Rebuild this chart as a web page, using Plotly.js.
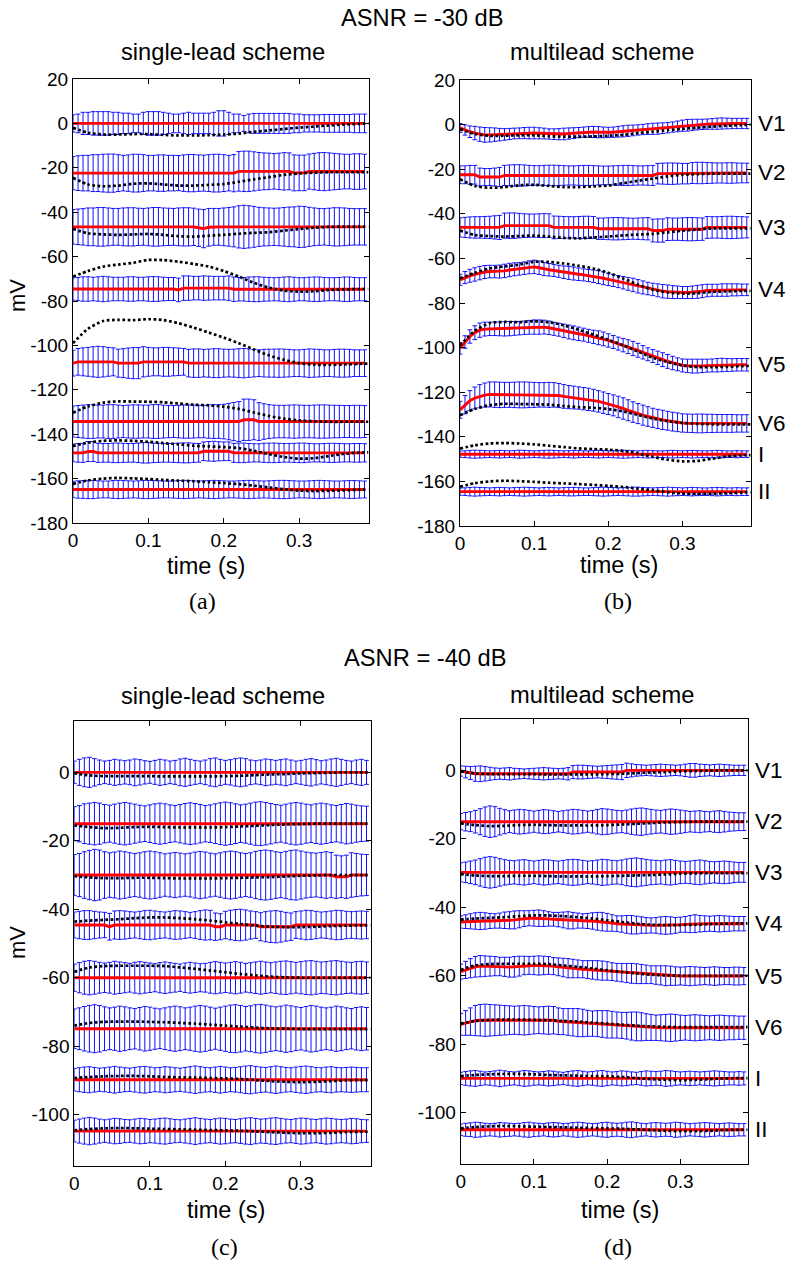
<!DOCTYPE html>
<html><head><meta charset="utf-8">
<script src="https://cdn.plot.ly/plotly-3.0.1.min.js"></script>
<style>html,body{margin:0;padding:0;background:#fff}#chart{width:786px;height:1264px}</style>
</head><body><div id="chart"></div>
<script>
const LEADS = ['V1','V2','V3','V4','V5','V6','I','II'];
// error-bar sample times (s)
const TB = [0,0.0067,0.0133,0.02,0.0267,0.0333,0.04,0.0467,0.0533,0.06,
0.0667,0.0733,0.08,0.0867,0.0933,0.1,0.1067,0.1133,0.12,0.1267,
0.1333,0.14,0.1467,0.1533,0.16,0.1667,0.1733,0.18,0.1867,0.1933,
0.2,0.2067,0.2133,0.22,0.2267,0.2333,0.24,0.2467,0.2533,0.26,
0.2667,0.2733,0.28,0.2867,0.2933,0.3,0.3067,0.3133,0.32,0.3267,
0.3333,0.34,0.3467,0.3533,0.36,0.3667,0.3733,0.38,0.3867];
// true-signal sample times (s)
const TT = [0,0.02,0.04,0.06,0.08,0.1,0.12,0.14,0.16,0.18,0.2,0.22,0.24,0.26,0.28,0.3,0.32,0.34,0.36,0.38,0.392];
const XTICKS = [0,0.1,0.2,0.3];
const XTICKTEXT = ['0','0.1','0.2','0.3'];
const YTICKS30 = [20,0,-20,-40,-60,-80,-100,-120,-140,-160,-180];
const YTICKS40 = [0,-20,-40,-60,-80,-100];

// true signals, ASNR = -30 dB
const T30_V1 = [-2,-4.2,-5,-5,-4.8,-4.8,-5.2,-5.4,-5.4,-5.3,-5,-4.6,-3.8,-3.2,-2.5,-1.9,-1.4,-0.9,-0.5,-0.2,0];
const T30_V2 = [-24.5,-27.5,-28.3,-28,-27.2,-27,-27.5,-28,-28,-27.7,-27.3,-26.3,-25.2,-24.2,-23.2,-22.5,-22.2,-22,-22,-22,-22];
const T30_V3 = [-47.5,-49.5,-50,-50.2,-50,-49.8,-50.2,-50.8,-51,-50.6,-50.2,-49.7,-49.3,-49,-48.3,-47.6,-47,-46.6,-46.5,-46.5,-46.5];
const T30_V4 = [-69,-66.5,-64.5,-63.6,-62.8,-61.5,-61.6,-62.3,-63.3,-64.5,-66.5,-69,-71.8,-74,-75.3,-75.8,-75.6,-75,-74.8,-74.6,-74.6];
const T30_V5 = [-99,-92.5,-89,-88.5,-88.6,-88.2,-88.6,-90,-92,-94.2,-96.5,-99,-101.8,-104.5,-106.5,-108,-108.7,-108.8,-108.6,-108.3,-108.2];
const T30_V6 = [-130.3,-127.5,-125.8,-125.2,-125.3,-125.4,-125.6,-126.2,-126.7,-127,-127.6,-128.6,-130.2,-131.8,-133,-133.8,-134.2,-134.4,-134.4,-134.4,-134.4];
const T30_I = [-145.3,-143.8,-143,-142.8,-143,-143.4,-144,-144.6,-145.2,-145.5,-145.8,-146.3,-147.5,-149,-150.3,-151,-150.8,-149.8,-148.8,-148.3,-148.2];
const T30_II = [-162.4,-160.8,-160,-159.7,-159.9,-160.2,-160.6,-160.9,-161.2,-161.6,-162,-162.5,-163.2,-164,-164.8,-165.4,-165.6,-165.5,-165.3,-165,-164.9];

// true signals, ASNR = -40 dB
const T40_V1 = [-0.3,-0.9,-1.1,-1.1,-1.1,-1.1,-1.2,-1.2,-1.2,-1.2,-1.1,-1,-0.8,-0.6,-0.5,-0.3,-0.2,-0.1,0,0,0];
const T40_V2 = [-15.5,-16,-16.3,-16.2,-16,-15.9,-16,-16.1,-16.1,-16.1,-16,-15.8,-15.6,-15.4,-15.2,-15.1,-15,-15,-15,-15,-15];
const T40_V3 = [-30.3,-30.7,-30.9,-30.9,-30.8,-30.8,-30.9,-31,-31,-31,-30.9,-30.8,-30.7,-30.6,-30.4,-30.2,-30.1,-30,-30,-30,-30];
const T40_V4 = [-43.6,-43.3,-43.1,-42.9,-42.6,-42.4,-42.4,-42.6,-42.9,-43.3,-43.8,-44.3,-44.8,-45.1,-45.2,-45.2,-45.1,-44.9,-44.8,-44.7,-44.7];
const T40_V5 = [-58.3,-57,-56.6,-56.5,-56.5,-56.5,-56.6,-57,-57.4,-57.9,-58.4,-58.9,-59.3,-59.7,-59.9,-60,-60,-60,-60,-60,-60];
const T40_V6 = [-74,-73.2,-72.9,-72.8,-72.8,-72.9,-73,-73.2,-73.4,-73.7,-74,-74.3,-74.6,-74.8,-74.9,-75,-75,-75,-75,-75,-75];
const T40_I = [-89.3,-89,-88.8,-88.7,-88.7,-88.8,-89,-89.1,-89.2,-89.3,-89.4,-89.6,-89.9,-90.2,-90.4,-90.5,-90.4,-90.2,-90,-89.9,-89.9];
const T40_II = [-104.6,-104.2,-104,-103.9,-104,-104.1,-104.2,-104.3,-104.4,-104.5,-104.6,-104.7,-104.9,-105.1,-105.3,-105.4,-105.4,-105.3,-105.1,-105,-105];

// (a) single-lead, -30 dB : mean estimate and std
const A_EST_V1 = [0,0,0,0,0,0,0,0,0,0, 0,0,0,0,0,0,0,0,0,0, 0,0,0,0,0,0,0,0,0,0, 0,0,0,0,0,0,0,0,0,0, 0,0,0,0,0,0,0,0,0,0, 0,0,0,0,0,0,0,0,0];
const A_SD_V1 = [3.9,4.2,5,5,5.3,5.3,5.3,5.3,5,5, 4.6,4.6,4.2,4.2,5,5.3,5.3,5.3,5,4.6, 4.2,4.2,4.6,5,4.6,4.6,4.6,4.6,5,5.7, 5.7,5,4.2,4.2,3.6,4.2,4.5,4.5,4.5,4.5, 4.5,4.5,4.5,4.5,4.2,4.2,3.9,3.9,3.9,3.9, 4,4,4,4,4,4,4.2,4.2,4.2];
const A_EST_V2 = [-22.4,-22.4,-22.4,-22.4,-22.4,-22.4,-22.4,-22.4,-22.4,-22.4, -22.4,-22.4,-22.4,-22.4,-22.4,-22.4,-22.4,-22.4,-22.4,-22.4, -22.4,-22.4,-22.4,-22.4,-22.4,-22.4,-22.4,-22.4,-22.4,-22.4, -22.4,-22.4,-22.4,-21.6,-21.6,-21.6,-21.6,-21.6,-21.6,-21.6, -21.6,-21.6,-21.6,-21.6,-22.3,-22.3,-22.3,-21.7,-21.7,-21.7, -21.7,-21.7,-21.7,-21.7,-21.7,-21.7,-21.7,-21.7,-21.7];
const A_SD_V2 = [7.5,7.8,8,8,8.3,8.3,8.5,8.6,8.6,8.3, 8,8.2,8.5,8.5,8.3,8,8,8.2,8.2,8, 8,7.9,8.2,8.4,8.4,8.2,8.1,8.3,8.5,8.5, 8.3,8,8.4,8.9,9.1,9.1,8.8,8.5,8.3,8.2, 8,8.2,8.4,8.3,8.1,8,8,7.9,8.2,8.5, 8.6,8.4,8.2,8,7.8,7.8,8,8,7.8];
const A_EST_V3 = [-46.6,-46.6,-46.6,-46.6,-46.6,-46.6,-46.6,-46.6,-46.6,-46.6, -46.6,-46.6,-46.6,-46.6,-46.6,-46.6,-46.6,-46.6,-46.6,-46.6, -46.6,-46.6,-46.6,-46.6,-46.6,-47,-47.4,-46.8,-46.6,-46.6, -46.6,-46.6,-46.6,-46.6,-46.6,-46.6,-46.6,-46.6,-46.6,-46.6, -46.6,-46.6,-46.6,-46.6,-46.6,-46.6,-46.6,-46.6,-46.6,-46.6, -46.6,-46.6,-46.6,-46.6,-46.6,-46.6,-46.6,-46.6,-46.6];
const A_SD_V3 = [7.8,8,8.2,8.5,8.5,8.7,8.7,8.5,8.3,8.3, 8.5,8.6,8.6,8.4,8.3,8.5,8.7,8.7,8.5,8.4, 8.3,8.5,8.6,8.6,8.4,8.4,8.6,8.5,8.3,8.3, 8.5,8.7,9,9.5,9.7,9.5,9.2,8.8,8.6,8.5, 8.4,8.5,8.7,8.9,9,9.3,9.2,8.8,8.5,8.3, 8.2,8.4,8.6,8.6,8.5,8.3,8.2,8.2,8.2];
const A_EST_V4 = [-74.6,-74.6,-74.6,-74.6,-74.6,-74.6,-74.6,-74.6,-74.6,-74.6, -74.6,-74.6,-74.6,-74.6,-74.6,-74.6,-74.6,-74.6,-74.6,-74.6, -74.6,-75,-74.2,-74.2,-74.2,-74.2,-74.2,-74.2,-74.2,-74.2, -74.2,-74.2,-74.7,-74.7,-74.7,-74.7,-74.7,-74.7,-74.7,-74.7, -74.7,-74.7,-74.7,-74.7,-74.7,-74.7,-74.7,-74.7,-74.7,-74.7, -74.7,-74.7,-74.7,-74.7,-74.7,-74.7,-74.7,-74.7,-74.7];
const A_SD_V4 = [5,5.2,5.5,5.5,5.3,5.5,5.7,5.5,5.3,5.3, 5.3,5.5,5.5,5.3,5.3,5.5,5.6,5.5,5.3,5.2, 5.2,5.3,5.5,5.5,5.3,5.3,5.5,5.4,5.3,5.3, 5.3,5.5,5.5,5.3,5.3,5.5,5.6,5.6,5.4,5.3, 5.2,5.3,5.5,5.6,5.4,5.2,5.2,5.4,5.5,5.5, 5.3,5.2,5.2,5.3,5.5,5.5,5.3,5.2,5.2];
const A_EST_V5 = [-108,-107.4,-107.4,-107.4,-107.4,-107.4,-107.4,-107.4,-107.4,-108, -108,-108,-108,-108,-107.4,-107.4,-107.4,-107.4,-107.4,-107.4, -107.4,-107.4,-107.4,-108,-108,-108,-108,-108,-108,-108, -108,-108,-108,-108,-108,-108,-108,-108,-108,-108, -108,-108,-108,-108,-108,-108,-108,-108,-108,-108, -108,-108,-108,-108,-108,-108,-108,-108,-108];
const A_SD_V5 = [5.8,6,6.3,6.5,6.8,7,6.8,6.5,6.3,6.3, 6.5,6.8,7,7,6.8,6.5,6.3,6.3,6.5,6.5, 6.3,6.2,6,6.2,6.4,6.4,6.2,6.3,6.5,6.5, 6.3,6.2,6.3,6.5,6.6,6.4,6.2,6,6.2,6.3, 6.3,6.4,6.3,6.2,6,6,6.2,6.4,6.3,6.2, 6,6,6.2,6.3,6.3,6.2,6,6,6];
const A_EST_V6 = [-134.3,-134.3,-134.3,-134.3,-134.3,-134.3,-134.3,-134.3,-134.3,-134.3, -134.3,-134.3,-134.3,-134.3,-134.3,-134.3,-134.3,-134.3,-134.3,-134.3, -134.3,-134.3,-134.3,-134.3,-134.3,-134.3,-134.3,-134.3,-134.3,-134.3, -134.3,-134.3,-134.3,-134.3,-133.5,-133.5,-133.5,-134.3,-134.3,-134.3, -134.3,-134.3,-134.3,-134.3,-134.3,-134.3,-134.3,-134.3,-134.3,-134.3, -134.3,-134.3,-134.3,-134.3,-134.3,-134.3,-134.3,-134.3,-134.3];
const A_SD_V6 = [7,7.2,7.4,7.6,7.6,7.4,7.4,7.6,7.6,7.4, 7.2,7.4,7.5,7.5,7.4,7.4,7.6,7.6,7.4,7.3, 7.2,7.3,7.5,7.5,7.4,7.3,7.3,7.5,7.6,7.6, 7.8,8.2,8.6,9,9.3,9.3,9,8.5,8,7.6, 7.4,7.3,7.3,7.4,7.5,7.4,7.3,7.3,7.4,7.5, 7.5,7.4,7.3,7.3,7.2,7.2,7.3,7.3,7.2];
const A_EST_I = [-148.4,-148.4,-148.4,-147.8,-147.8,-148.4,-148.4,-148.4,-148.4,-148.4, -148.4,-148.4,-148.4,-148.4,-148.4,-148.4,-148.4,-148.4,-148.4,-148.4, -148.4,-148.4,-148.4,-148.4,-148.4,-148.4,-147.7,-147.7,-147.7,-147.7, -147.7,-147.7,-148.4,-148.4,-148.4,-148.4,-148.4,-148.4,-148.4,-148.4, -148.4,-148.4,-148.4,-148.4,-148.4,-148.4,-148.4,-148.4,-148.4,-148.4, -148.4,-148.4,-148.4,-148.4,-148.4,-148.4,-148.4,-148.4,-148.4];
const A_SD_I = [4,4.2,4.3,4.5,4.5,4.3,4.2,4.2,4.4,4.4, 4.3,4.2,4.2,4.4,4.6,4.6,4.4,4.3,4.2,4.2, 4.3,4.4,4.5,4.5,4.3,4.2,4.2,4.4,4.5,4.3, 4.2,4.2,4.3,4.4,4.4,4.2,4.1,4.1,4.3,4.4, 4.4,4.3,4.2,4.2,4.3,4.4,4.4,4.2,4.1,4.1, 4.2,4.3,4.3,4.2,4.1,4.1,4.2,4.2,4.1];
const A_EST_II = [-164.9,-164.9,-164.9,-164.9,-164.9,-164.9,-164.9,-164.9,-164.9,-164.9, -164.9,-164.9,-164.9,-164.9,-164.9,-164.9,-164.9,-164.9,-164.9,-164.9, -164.9,-164.9,-164.9,-164.9,-164.9,-164.9,-164.9,-164.9,-164.9,-164.9, -164.9,-164.9,-164.9,-164.9,-164.9,-164.9,-164.9,-164.9,-164.9,-164.9, -164.9,-164.9,-164.9,-164.9,-164.9,-164.9,-164.9,-164.9,-164.9,-164.9, -164.9,-164.9,-164.9,-164.9,-164.9,-164.9,-164.9,-164.9,-164.9];
const A_SD_II = [3.7,3.9,4,4.1,4.1,3.9,3.8,3.8,4,4.1, 4,3.9,3.8,3.9,4.1,4.1,4,3.9,3.8,3.8, 3.9,4,4.1,4,3.9,3.8,3.9,4,4.1,4, 3.9,3.8,3.8,3.9,4,4.1,4,3.9,3.8,3.9, 4,4.1,4.1,4,3.9,3.8,3.8,3.9,4,4.1, 4,3.9,3.8,3.8,3.9,4,4,3.9,3.8];

// (b) multilead, -30 dB
const B_EST_V1 = [-1.5,-2.4,-3.2,-3.8,-4.3,-4.6,-4.6,-4.5,-4.5,-4.4, -4.2,-4,-3.9,-3.8,-3.8,-3.8,-3.9,-4,-4.2,-4.3, -4.3,-4.2,-4,-3.8,-3.6,-3.4,-3.3,-3.3,-3.4,-3.5, -3.5,-3.4,-3.2,-3,-2.8,-2.6,-2.4,-2.2,-2,-1.9, -1.8,-1.6,-1.4,-1.1,-0.8,-0.5,-0.3,-0.1,0,0.1, 0.2,0.3,0.4,0.5,0.5,0.5,0.5,0.5,0.5];
const B_SD_V1 = [2,2.3,2.6,3,3.2,3.3,3.2,3,2.8,2.6, 2.5,2.4,2.4,2.5,2.6,2.6,2.5,2.4,2.3,2.4, 2.5,2.6,2.5,2.4,2.3,2.3,2.4,2.5,2.5,2.4, 2.3,2.3,2.4,2.5,2.5,2.4,2.3,2.3,2.4,2.5, 2.5,2.4,2.3,2.3,2.4,2.5,2.6,2.5,2.4,2.3, 2.3,2.4,2.5,2.5,2.4,2.3,2.3,2.3,2.3];
const B_EST_V2 = [-22.5,-22.5,-22.5,-22.5,-23.5,-23.5,-23.5,-23.5,-23.5,-22.8, -22.8,-22.8,-22.8,-22.8,-22.8,-22.8,-22.8,-22.8,-22.8,-22.8, -22.8,-22.8,-22.8,-22.8,-22.8,-22.8,-22.8,-22.8,-22.8,-22.8, -22.8,-22.8,-22.8,-22.8,-22.8,-22.8,-22.8,-22.8,-22.8,-22.8, -22,-22,-22,-22,-22,-22,-22,-21.7,-21.7,-21.7, -21.7,-21.7,-21.7,-21.7,-21.7,-21.7,-21.7,-21.7,-21.7];
const B_SD_V2 = [4,4,4.2,4.2,4,3.8,3.8,4,4.3,4.5, 4.7,4.8,4.8,4.7,4.5,4.4,4.4,4.5,4.6,4.6, 4.5,4.4,4.3,4.3,4.4,4.5,4.5,4.4,4.3,4.2, 4.2,4.3,4.4,4.5,4.5,4.4,4.3,4.3,4.4,4.5, 4.6,4.7,4.8,4.8,4.7,4.6,4.6,4.7,4.8,4.8, 4.7,4.6,4.5,4.5,4.6,4.6,4.5,4.4,4.4];
const B_EST_V3 = [-46.1,-46.1,-46.1,-46.1,-46.1,-46.1,-46.1,-46.1,-46.1,-45.3, -45.3,-45.3,-45.3,-45.3,-45.3,-45.3,-45.3,-45.3,-45.3,-46.1, -46.1,-46.1,-46.1,-46.1,-46.1,-46.1,-46.1,-46.1,-46.7,-46.7, -46.7,-46.7,-46.7,-46.7,-46.7,-46.7,-46.7,-46.7,-46.7,-47.5, -47.5,-47.5,-46.9,-46.9,-46.9,-46.9,-46.9,-46.9,-46.9,-46.9, -46.1,-46.1,-46.1,-46.1,-46.1,-46.1,-46.1,-46.1,-46.1];
const B_SD_V3 = [4.3,4.5,4.7,4.8,4.8,4.9,5,5.2,5.4,5.6, 5.7,5.7,5.5,5.3,5.2,5.2,5.3,5.4,5.3,5.1, 5,4.9,4.8,4.8,4.9,5,5,4.9,4.8,4.8, 4.9,5,5,4.9,4.8,4.7,4.8,4.9,5,5.1, 5.2,5.2,5.1,5,5,5.1,5.2,5.2,5.1,5, 4.9,4.8,4.8,4.9,5,5,4.9,4.8,4.7];
const B_EST_V4 = [-69.6,-68.6,-67.8,-67.2,-66.6,-66.1,-65.9,-65.9,-65.9,-65.6, -65.2,-64.9,-64.7,-64.4,-64,-63.8,-64.2,-64.8,-65.1,-65.4, -65.8,-66.2,-66.5,-66.8,-67.1,-67.4,-67.7,-68,-68.4,-68.9, -69.4,-69.9,-70.4,-70.9,-71.4,-71.9,-72.5,-73,-73.5,-73.9, -74.3,-74.7,-74.9,-75.1,-75.2,-75.3,-75.3,-75.2,-75,-74.7, -74.4,-74.3,-74.3,-74.2,-74.2,-74.1,-74.1,-74.1,-74.1];
const B_SD_V4 = [2.5,2.7,2.9,3,3,2.9,2.8,2.8,2.9,3, 3,2.9,2.8,2.8,2.9,3,3,2.9,2.8,2.7, 2.7,2.8,2.9,2.9,2.8,2.7,2.7,2.8,2.9,2.9, 2.8,2.7,2.7,2.8,2.9,3,3,2.9,2.8,2.8, 2.9,3,3,2.9,2.8,2.7,2.7,2.8,2.9,2.9, 2.8,2.7,2.7,2.8,2.8,2.7,2.7,2.6,2.6];
const B_EST_V5 = [-100.3,-97.5,-95,-93.3,-92.2,-91.7,-91.6,-91.6,-91.6,-91.6, -91.5,-91.4,-91.3,-91.1,-90.9,-90.8,-90.8,-90.8,-91.1,-91.6, -92,-92.5,-93,-93.4,-93.8,-94.2,-94.7,-95.2,-95.6,-96.1, -96.8,-97.5,-98.2,-98.9,-99.6,-100.4,-101.2,-102.1,-103,-103.8, -104.6,-105.4,-106.2,-106.9,-107.5,-108,-108.2,-108.3,-108.3,-108.2, -108.1,-108,-107.9,-107.8,-107.8,-107.8,-107.7,-107.7,-107.7];
const B_SD_V5 = [2.6,2.8,3,3.1,3.2,3.1,3,3,3.1,3.2, 3.2,3.1,3,3,3.1,3.2,3.2,3.1,3,2.9, 2.9,3,3.1,3.1,3,2.9,2.9,3,3.1,3.1, 3,2.9,2.9,3,3.1,3.2,3.1,3,2.9,2.9, 3,3.1,3.1,3,2.9,2.9,3,3.1,3.1,3, 2.9,2.9,3,3,2.9,2.8,2.8,2.8,2.8];
const B_EST_V6 = [-127.9,-125.6,-123.8,-122.6,-121.8,-121.3,-121,-121.1,-121.2,-121.2, -121.2,-121.2,-121.2,-121.2,-121.2,-121.2,-121.2,-121.2,-121.2,-121.2, -121.5,-121.9,-122.2,-122.4,-122.6,-122.9,-123.2,-123.6,-124.1,-124.7, -125.3,-125.9,-126.6,-127.3,-128.1,-128.9,-129.6,-130.3,-130.9,-131.5, -132,-132.4,-132.8,-133.2,-133.5,-133.8,-133.9,-134,-134,-134, -134,-134,-134,-134,-134,-134,-134,-134,-134];
const B_SD_V6 = [3.8,4.1,4.5,4.9,5.2,5.4,5.6,5.7,5.7,5.6, 5.6,5.7,5.8,5.8,5.7,5.6,5.5,5.5,5.6,5.5, 5.4,5.3,5.2,5.1,5,5,5,4.9,4.8,4.8, 4.7,4.7,4.8,4.8,4.7,4.6,4.5,4.5,4.4,4.3, 4.3,4.3,4.2,4.2,4.2,4.1,4.1,4.1,4.2,4.2, 4.1,4.1,4,4,4,4,3.9,3.9,3.9];
const B_EST_I = [-147.8,-147.8,-147.8,-147.8,-147.8,-147.8,-147.8,-147.8,-147.8,-147.8, -147.8,-147.8,-147.8,-147.8,-147.8,-147.8,-147.8,-147.8,-147.8,-147.8, -147.8,-147.8,-147.8,-147.8,-147.8,-147.8,-147.8,-147.8,-147.8,-147.8, -147.8,-147.8,-147.8,-147.8,-147.8,-147.8,-147.8,-147.8,-147.8,-147.8, -147.8,-147.8,-147.8,-147.8,-147.8,-147.8,-147.8,-147.8,-147.8,-147.8, -147.8,-147.8,-147.8,-147.8,-147.8,-147.8,-147.8,-147.8,-147.8];
const B_SD_I = [1.4,1.5,1.7,1.8,1.7,1.6,1.5,1.6,1.7,1.6, 1.5,1.6,1.8,1.7,1.6,1.5,1.6,1.7,1.8,1.7, 1.6,1.5,1.6,1.7,1.6,1.5,1.5,1.6,1.7,1.6, 1.5,1.6,1.7,1.8,1.7,1.6,1.5,1.6,1.7,1.6, 1.5,1.5,1.6,1.7,1.6,1.5,1.6,1.7,1.6,1.5, 1.5,1.6,1.7,1.6,1.5,1.5,1.6,1.5,1.5];
const B_EST_II = [-164.6,-164.6,-164.6,-164.6,-164.6,-164.6,-164.6,-164.6,-164.6,-164.6, -164.6,-164.6,-164.6,-164.6,-164.6,-164.6,-164.6,-164.6,-164.6,-164.6, -164.6,-164.6,-164.6,-164.6,-164.6,-164.6,-164.6,-164.6,-164.6,-164.6, -164.6,-164.6,-164.6,-164.6,-164.6,-164.6,-164.6,-164.6,-164.6,-164.6, -164.6,-164.6,-164.6,-164.6,-164.6,-164.6,-164.6,-164.6,-164.6,-164.6, -164.6,-164.6,-164.6,-164.6,-164.6,-164.6,-164.6,-164.6,-164.6];
const B_SD_II = [1.6,1.7,1.9,2,1.9,1.8,1.7,1.8,1.9,1.8, 1.7,1.8,1.9,2,1.9,1.8,1.7,1.8,1.9,1.8, 1.7,1.8,1.9,1.9,1.8,1.7,1.7,1.8,1.9,2, 1.9,1.8,1.7,1.8,1.9,2,2,1.9,1.8,1.7, 1.8,1.9,2,1.9,1.8,1.7,1.8,1.9,1.8,1.7, 1.7,1.8,1.9,1.8,1.7,1.7,1.8,1.7,1.7];

// (c) single-lead, -40 dB
const C_EST_V1 = [0,0,0,0,0,0,0,0,0,0, 0,0,0,0,0,0,0,0,0,0, 0,0,0,0,0,0,0,0,0,0, 0,0,0,0,0,0,0,0,0,0, 0,0,0,0,0,0,0,0,0,0, 0,0,0,0,0,0,0,0,0];
const C_SD_V1 = [3.3,3.8,4.2,4.4,4,3.6,3.3,3.5,3.8,3.6, 3.4,3.6,3.9,3.7,3.4,3.2,3.5,3.8,3.6,3.3, 3.5,3.9,4.1,3.8,3.5,3.3,3.6,4,4.2,3.8, 3.5,3.7,4,4.2,4,3.6,3.4,3.6,3.9,3.7, 3.5,3.7,3.9,3.6,3.3,3.5,3.8,4,3.7,3.4, 3.6,3.9,4.1,3.8,3.5,3.3,3.6,3.8,3.5];
const C_EST_V2 = [-15,-15,-15,-15,-15,-15,-15,-15,-15,-15, -15,-15,-15,-15,-15,-15,-15,-15,-15,-15, -15,-15,-15,-15,-15,-15,-15,-15,-15,-15, -15,-15,-15,-15,-15,-15,-15,-15,-15,-15, -15,-15,-15,-15,-15,-15,-15,-15,-15,-15, -15,-15,-15,-15,-15,-15,-15,-15,-15];
const C_SD_V2 = [5,5.3,5.8,6,6.2,6,5.6,5.4,5.7,6, 6.2,6,5.7,5.4,5.2,5.5,5.8,6,5.8,5.5, 5.3,5.6,5.9,6.1,5.9,5.6,5.3,5.5,5.8,6.1, 6.3,6.1,5.8,5.5,5.7,6,6.3,6.4,6.2,5.9, 5.6,5.4,5.7,6,6.2,6,5.7,5.5,5.8,6, 5.8,5.5,5.3,5.6,5.9,5.7,5.4,5.2,5.1];
const C_EST_V3 = [-30,-30,-30,-30,-30,-30,-30,-30,-30,-30, -30,-30,-30,-30,-30,-30,-30,-30,-30,-30, -30,-30,-30,-30,-30,-30,-30,-30,-30,-30, -30,-30,-30,-30,-30,-30,-30,-30,-30,-30, -30,-30,-30,-30,-30,-30,-30,-30,-30,-30, -30,-30,-30.5,-30.5,-30.5,-30,-30,-30,-30];
const C_SD_V3 = [6,6.3,6.8,7.2,7.5,7.3,6.8,6.5,6.7,7, 6.8,6.5,6.3,6.5,6.8,7,6.8,6.5,6.2,6.4, 6.6,6.4,6.2,6.4,6.7,6.9,6.7,6.4,6.2,6.5, 6.8,7,6.8,6.5,6.3,6.5,6.9,7.2,7.3,7.1, 6.8,6.6,6.9,7.2,7.3,7,6.7,6.5,6.4,6.6, 6.8,6.6,6.3,6.1,6.3,6.5,6.3,6.1,6];
const C_EST_V4 = [-44.6,-44.6,-44.6,-44.6,-44.6,-44.6,-44.6,-45.1,-44.6,-44.6, -44.6,-44.6,-44.6,-44.6,-44.6,-44.6,-44.6,-44.6,-44.6,-44.6, -44.6,-44.6,-44.6,-44.6,-44.6,-44.6,-44.6,-44.6,-45.1,-45.1, -44.6,-44.6,-44.6,-44.6,-44.6,-44.6,-44.6,-45.1,-45.1,-45.1, -45.1,-45.1,-45.1,-45.1,-44.6,-44.6,-44.6,-44.6,-44.6,-44.6, -44.6,-44.6,-44.6,-44.6,-44.6,-44.6,-44.6,-44.6,-44.6];
const C_SD_V4 = [3.8,4,4.2,4.2,4,3.8,3.7,3.9,4.1,4.2, 4.1,3.9,3.8,4,4.2,4.3,4.1,3.9,3.8,4, 4.2,4.1,3.9,3.7,3.9,4.2,4.4,4.3,4,3.8, 4,4.3,4.5,4.6,4.4,4.1,3.9,4.1,4.4,4.6, 4.7,4.5,4.2,4,3.9,4.1,4.3,4.2,4,3.8, 3.9,4.1,4.3,4.2,4,3.9,4,4.1,4];
const C_EST_V5 = [-60,-60,-60,-60,-60,-60,-60,-60,-60,-60, -60,-60,-60,-60,-60,-60,-60,-60,-60,-60, -60,-60,-60,-60,-60,-60,-60,-60,-60,-60, -60,-60,-60,-60,-60,-60,-60,-60,-60,-60, -60,-60,-60,-60,-60,-60,-60,-60,-60,-60, -60,-60,-60,-60,-60,-60,-60,-60,-60];
const C_SD_V5 = [4,4.4,4.8,5,4.8,4.5,4.3,4.5,4.8,4.6, 4.4,4.2,4.5,4.7,4.5,4.3,4.1,4.4,4.6,4.4, 4.2,4,4.3,4.5,4.3,4.1,4.2,4.5,4.7,4.5, 4.3,4.5,4.7,4.5,4.2,4.4,4.6,4.8,4.6,4.4, 4.6,4.8,4.9,4.7,4.5,4.7,4.9,5,4.8,4.6, 4.7,4.9,5,4.8,4.6,4.5,4.7,4.8,4.6];
const C_EST_V6 = [-74.9,-74.9,-74.9,-74.9,-74.9,-74.9,-74.9,-74.9,-74.9,-74.9, -74.9,-74.9,-74.9,-74.9,-74.9,-74.9,-74.9,-74.9,-74.9,-74.9, -74.9,-74.9,-74.9,-74.9,-74.9,-74.9,-74.9,-74.9,-74.9,-74.9, -74.9,-74.9,-74.9,-74.9,-74.9,-74.9,-74.9,-74.9,-74.9,-74.9, -74.9,-74.9,-74.9,-74.9,-74.9,-74.9,-74.9,-74.9,-74.9,-74.9, -74.9,-74.9,-74.9,-74.9,-74.9,-74.9,-74.9,-74.9,-74.9];
const C_SD_V6 = [5.8,6.1,6.5,6.8,7,6.8,6.4,6.1,6.3,6.6, 6.4,6.1,5.9,6.2,6.5,6.3,6,5.8,6.1,6.4, 6.6,6.4,6.1,6.3,6.6,6.8,6.6,6.3,6,6.3, 6.6,6.9,7,6.8,6.5,6.7,7,7.1,6.9,6.6, 6.4,6.6,6.9,6.7,6.4,6.2,6.5,6.8,6.6,6.3, 6.1,6.3,6.6,6.4,6.1,5.9,6.2,6.4,6.2];
const C_EST_I = [-89.8,-89.8,-89.8,-89.8,-89.8,-89.8,-89.8,-89.8,-89.8,-89.8, -89.8,-89.8,-89.8,-89.8,-89.8,-89.8,-89.8,-89.8,-89.8,-89.8, -89.8,-89.8,-89.8,-89.8,-89.8,-89.8,-89.8,-89.8,-89.8,-89.8, -89.8,-89.8,-89.8,-89.8,-89.8,-89.8,-89.8,-89.8,-89.8,-89.8, -89.8,-89.8,-89.8,-89.8,-89.8,-89.8,-89.8,-89.8,-89.8,-89.8, -89.8,-89.8,-89.8,-89.8,-89.8,-89.8,-89.8,-89.8,-89.8];
const C_SD_I = [3.3,3.5,3.7,3.8,3.6,3.4,3.5,3.7,3.9,3.7, 3.5,3.4,3.6,3.8,3.9,3.7,3.5,3.6,3.8,3.7, 3.5,3.4,3.6,3.8,4,3.8,3.6,3.5,3.7,3.9, 3.7,3.5,3.6,3.8,4,4.1,3.9,3.7,3.6,3.8, 4,3.8,3.6,3.5,3.7,3.9,4,3.8,3.6,3.5, 3.7,3.8,3.6,3.5,3.6,3.7,3.6,3.5,3.5];
const C_EST_II = [-104.8,-104.8,-104.8,-104.8,-104.8,-104.8,-104.8,-104.8,-104.8,-104.8, -104.8,-104.8,-104.8,-104.8,-104.8,-104.8,-104.8,-104.8,-104.8,-104.8, -104.8,-104.8,-104.8,-104.8,-104.8,-104.8,-104.8,-104.8,-104.8,-104.8, -104.8,-104.8,-104.8,-104.8,-104.8,-104.8,-104.8,-104.8,-104.8,-104.8, -104.8,-104.8,-104.8,-104.8,-104.8,-104.8,-104.8,-104.8,-104.8,-104.8, -104.8,-104.8,-104.8,-104.8,-104.8,-104.8,-104.8,-104.8,-104.8];
const C_SD_II = [3.2,3.5,3.8,4,3.8,3.5,3.3,3.5,3.7,3.6, 3.4,3.3,3.5,3.7,3.6,3.4,3.5,3.7,3.8,3.6, 3.4,3.3,3.5,3.7,3.9,3.7,3.5,3.4,3.6,3.8, 3.7,3.5,3.4,3.6,3.8,3.9,3.7,3.5,3.6,3.8, 3.9,3.7,3.5,3.4,3.6,3.8,3.7,3.5,3.4,3.6, 3.8,3.7,3.5,3.4,3.5,3.7,3.6,3.4,3.3];

// (d) multilead, -40 dB
const D_EST_V1 = [-0.2,-0.5,-0.8,-1,-1,-1,-1,-1,-1,-1, -1,-1,-1,-1,-1,-1,-1,-1,-1,-1, -1,-1,-1,-0.5,-0.5,-0.5,-0.5,-0.5,-0.5,-0.5, -0.5,-0.5,-0.5,-0.5,0,0,0,0,0,0, 0,0,0,0,0,0,0,0,0,0, 0,0,0,0,0,0,0,0,0];
const D_SD_V1 = [1.5,1.7,1.9,2.2,2.3,2.1,1.9,1.7,1.6,1.7, 1.8,1.6,1.5,1.4,1.5,1.6,1.7,1.8,1.7,1.6, 1.5,1.6,1.8,1.9,2,2,1.9,1.8,1.7,1.8, 1.9,2,2.1,2.2,2.1,1.9,1.7,1.6,1.5,1.6, 1.7,1.8,1.7,1.6,1.5,1.6,1.8,2,2,1.8, 1.7,1.6,1.7,1.8,1.7,1.6,1.5,1.5,1.5];
const D_EST_V2 = [-15,-15,-15,-15,-15,-15,-15,-15,-15,-15, -15,-15,-15,-15,-15,-15,-15,-15,-15,-15, -15,-15,-15,-15,-15,-15,-15,-15,-15,-15, -15,-15,-15,-15,-15,-15,-15,-15,-15,-15, -15,-15,-15,-15,-15,-15,-15,-15,-15,-15, -15,-15,-15,-15,-15,-15,-15,-15,-15];
const D_SD_V2 = [2.4,2.7,2.9,3.3,3.8,4.3,4.6,4.4,3.9,3.5, 3.2,3.4,3.6,3.5,3.3,3.1,3.3,3.5,3.4,3.2, 3,3.2,3.4,3.6,3.5,3.3,3.1,3.3,3.6,3.8, 3.7,3.5,3.3,3.2,3.4,3.7,3.9,4,3.8,3.6, 3.4,3.3,3.5,3.7,3.6,3.4,3.2,3,3.1,3.2, 3,2.9,3.1,3.2,3,2.8,2.7,2.6,2.6];
const D_EST_V3 = [-29.8,-29.8,-29.8,-29.8,-29.8,-29.8,-29.8,-29.8,-29.8,-29.8, -29.8,-29.8,-29.8,-29.8,-29.8,-29.8,-29.8,-29.8,-29.8,-29.8, -29.8,-29.8,-29.8,-29.8,-29.8,-29.8,-29.8,-29.8,-29.8,-29.8, -29.8,-29.8,-29.8,-29.8,-29.8,-29.8,-29.8,-29.8,-29.8,-29.8, -29.8,-29.8,-29.8,-29.8,-29.8,-29.8,-29.8,-29.8,-29.8,-29.8, -29.8,-29.8,-29.8,-29.8,-29.8,-29.8,-29.8,-29.8,-29.8];
const D_SD_V3 = [2.8,3,3.3,3.6,4,4.4,4.6,4.4,4,3.7, 3.5,3.4,3.6,3.7,3.5,3.3,3.5,3.7,3.6,3.4, 3.3,3.5,3.7,3.8,3.7,3.5,3.3,3.4,3.6,3.8, 3.7,3.5,3.4,3.6,3.9,4.1,4.2,4,3.8,3.6, 3.5,3.4,3.6,3.7,3.5,3.3,3.2,3.3,3.5,3.6, 3.4,3.2,3.1,3.2,3.3,3.2,3,2.9,2.9];
const D_EST_V4 = [-44.3,-44.2,-44.1,-44,-44,-44,-44,-44,-43.9,-43.8, -43.8,-43.7,-43.5,-43.3,-43.2,-43.2,-43.2,-43.3,-43.4,-43.5, -43.6,-43.7,-43.8,-43.9,-43.9,-44,-44,-44,-44.1,-44.2, -44.4,-44.6,-44.8,-44.9,-45,-45.1,-45.2,-45.2,-45.3,-45.3, -45.3,-45.3,-45.3,-45.3,-45.3,-45.1,-45,-44.9,-44.8,-44.8, -44.8,-44.8,-44.8,-44.8,-44.8,-44.8,-44.8,-44.8,-44.8];
const D_SD_V4 = [1.8,2,2.2,2.4,2.5,2.4,2.2,2.1,2.2,2.4, 2.5,2.6,2.5,2.3,2.2,2.3,2.4,2.3,2.1,2, 2.1,2.3,2.5,2.4,2.2,2.1,2.2,2.4,2.6,2.7, 2.6,2.4,2.3,2.4,2.6,2.7,2.6,2.4,2.3,2.2, 2.3,2.5,2.6,2.5,2.3,2.2,2.3,2.5,2.6,2.4, 2.3,2.2,2.3,2.4,2.3,2.2,2.1,2.1,2.1];
const D_EST_V5 = [-58.8,-58.3,-57.8,-57.4,-57.2,-57.2,-57.2,-57.2,-57.3,-57.4, -57.5,-57.4,-57.2,-57,-57,-57,-57,-57,-57,-57.2, -57.4,-57.6,-57.8,-57.9,-58,-58.1,-58.2,-58.3,-58.4,-58.5, -58.6,-58.8,-59,-59.1,-59.2,-59.3,-59.4,-59.5,-59.6,-59.7, -59.8,-59.9,-60,-60,-60.1,-60.1,-60.1,-60.1,-60.1,-60.1, -60.1,-60.1,-60.1,-60.1,-60.1,-60.1,-60.1,-60.1,-60.1];
const D_SD_V5 = [2.2,2.5,2.8,3,3.1,3,2.9,2.8,2.7,2.8, 2.9,3,2.9,2.7,2.6,2.7,2.8,2.7,2.6,2.5, 2.6,2.7,2.8,2.7,2.6,2.5,2.6,2.7,2.8,2.8, 2.7,2.6,2.6,2.7,2.8,2.9,2.9,2.8,2.7,2.6, 2.7,2.8,2.9,2.8,2.7,2.6,2.7,2.8,2.7,2.6, 2.5,2.6,2.7,2.6,2.5,2.5,2.6,2.6,2.5];
const D_EST_V6 = [-74.2,-73.8,-73.4,-73.1,-73,-73,-73,-73,-73,-73, -73,-73,-73,-73,-73,-73,-73,-73,-73,-73, -73.3,-73.4,-73.5,-73.6,-73.7,-73.8,-73.9,-74,-74,-74.1, -74.2,-74.3,-74.4,-74.5,-74.6,-74.7,-74.8,-74.9,-75,-75.1, -75.2,-75.2,-75.2,-75.2,-75.2,-75.2,-75.2,-75.2,-75.2,-75.2, -75.2,-75.2,-75.2,-75.2,-75.2,-75.2,-75.2,-75.2,-75.2];
const D_SD_V6 = [3.2,3.6,4,4.4,4.6,4.7,4.6,4.5,4.4,4.3, 4.2,4.1,4.2,4.3,4.2,4,3.9,4,4.1,4, 3.9,3.8,3.9,4,4.1,4,3.8,3.7,3.8,3.9, 4,3.9,3.8,3.8,3.9,4.1,4.2,4.1,3.9,3.8, 3.7,3.8,3.9,4,3.9,3.7,3.6,3.7,3.8,3.7, 3.6,3.5,3.6,3.7,3.6,3.5,3.5,3.4,3.4];
const D_EST_I = [-90,-90,-90,-90,-90,-90,-90,-90,-90,-90, -90,-90,-90,-90,-90,-90,-90,-90,-90,-90, -90,-90,-90,-90,-90,-90,-90,-90,-90,-90, -90,-90,-90,-90,-90,-90,-90,-90,-90,-90, -90,-90,-90,-90,-90,-90,-90,-90,-90,-90, -90,-90,-90,-90,-90,-90,-90,-90,-90];
const D_SD_I = [1.8,2,2.2,2.3,2.1,1.9,2,2.2,2.4,2.2, 2,1.9,2.1,2.3,2.2,2,1.9,2,2.2,2.1, 1.9,1.8,2,2.2,2.3,2.1,1.9,2,2.2,2.3, 2.1,1.9,2,2.2,2.1,1.9,1.8,2,2.2,2.1, 2,2.1,2.3,2.2,2,1.9,2,2.1,2,1.9, 2,2.1,2.2,2.1,2,1.9,1.9,2,1.9];
const D_EST_II = [-105,-105,-105,-105,-105,-105,-105,-105,-105,-105, -105,-105,-105,-105,-105,-105,-105,-105,-105,-105, -105,-105,-105,-105,-105,-105,-105,-105,-105,-105, -105,-105,-105,-105,-105,-105,-105,-105,-105,-105, -105,-105,-105,-105,-105,-105,-105,-105,-105,-105, -105,-105,-105,-105,-105,-105,-105,-105,-105];
const D_SD_II = [1.7,1.9,2,2.2,2.1,1.9,1.8,1.9,2.1,2, 1.9,1.8,1.9,2.1,2.2,2,1.9,1.8,2,2.1, 2,1.8,1.9,2.1,2.2,2.1,1.9,1.8,1.9,2.1, 2.2,2,1.9,2,2.2,2.3,2.1,1.9,1.8,2, 2.1,2,1.9,2,2.2,2.1,1.9,1.8,1.9,2, 2.1,2,1.9,1.8,1.9,2,1.9,1.8,1.8];

// ---------------- build ----------------
const FONT = 'Arial, "Liberation Sans", sans-serif';
const SERIF = '"Times New Roman", "Liberation Serif", serif';
const W = 786, H = 1264;
const px = v => v / W, py = v => 1 - v / H;

const T30 = [T30_V1,T30_V2,T30_V3,T30_V4,T30_V5,T30_V6,T30_I,T30_II];
const T40 = [T40_V1,T40_V2,T40_V3,T40_V4,T40_V5,T40_V6,T40_I,T40_II];
const panels = [
  {xa:'x',  ya:'y',  est:[A_EST_V1,A_EST_V2,A_EST_V3,A_EST_V4,A_EST_V5,A_EST_V6,A_EST_I,A_EST_II], sd:[A_SD_V1,A_SD_V2,A_SD_V3,A_SD_V4,A_SD_V5,A_SD_V6,A_SD_I,A_SD_II], tru:T30, labels:false},
  {xa:'x2', ya:'y2', est:[B_EST_V1,B_EST_V2,B_EST_V3,B_EST_V4,B_EST_V5,B_EST_V6,B_EST_I,B_EST_II], sd:[B_SD_V1,B_SD_V2,B_SD_V3,B_SD_V4,B_SD_V5,B_SD_V6,B_SD_I,B_SD_II], tru:T30, labels:true},
  {xa:'x3', ya:'y3', est:[C_EST_V1,C_EST_V2,C_EST_V3,C_EST_V4,C_EST_V5,C_EST_V6,C_EST_I,C_EST_II], sd:[C_SD_V1,C_SD_V2,C_SD_V3,C_SD_V4,C_SD_V5,C_SD_V6,C_SD_I,C_SD_II], tru:T40, labels:false},
  {xa:'x4', ya:'y4', est:[D_EST_V1,D_EST_V2,D_EST_V3,D_EST_V4,D_EST_V5,D_EST_V6,D_EST_I,D_EST_II], sd:[D_SD_V1,D_SD_V2,D_SD_V3,D_SD_V4,D_SD_V5,D_SD_V6,D_SD_I,D_SD_II], tru:T40, labels:true}
];

const traces = [];
const annotations = [];
panels.forEach(p => {
  p.est.forEach((e, i) => {
    traces.push({type:'scatter', mode:'lines', x:TB, y:e, xaxis:p.xa, yaxis:p.ya,
      line:{color:'#ff0000', width:2.9},
      error_y:{type:'data', array:p.sd[i], visible:true, color:'#1010ff', thickness:1, width:2.4},
      showlegend:false, hoverinfo:'skip'});
  });
  p.tru.forEach(t => {
    traces.push({type:'scatter', mode:'lines', x:TT, y:t, xaxis:p.xa, yaxis:p.ya,
      line:{color:'#000000', width:2.7, dash:'2.7px,2.5px', shape:'spline', smoothing:0.7},
      showlegend:false, hoverinfo:'skip'});
  });
  if (p.labels) {
    p.est.forEach((e, i) => {
      annotations.push({xref:p.xa, yref:p.ya, x:0.392, y:e[e.length-1], xanchor:'left', yanchor:'middle',
        xshift:5, text:LEADS[i], showarrow:false, font:{family:FONT, size:22.5, color:'#000'}});
    });
  }
});

function xaxis(d0, d1, anchor) {
  return {domain:[px(d0), px(d1)], anchor:anchor, range:[0,0.392], tickmode:'array', tickvals:XTICKS, ticktext:XTICKTEXT,
    ticks:'inside', ticklen:5, tickcolor:'#000', tickwidth:1, showline:true, linecolor:'#000', linewidth:1, mirror:'ticks',
    showgrid:false, zeroline:false, tickfont:{family:FONT, size:19, color:'#000'}, fixedrange:true};
}
function yaxis(top, bot, anchor, rng, tv) {
  return {domain:[py(bot), py(top)], anchor:anchor, range:rng, tickmode:'array', tickvals:tv, ticktext:tv.map(String),
    ticks:'inside', ticklen:5, tickcolor:'#000', tickwidth:1, showline:true, linecolor:'#000', linewidth:1, mirror:'ticks',
    showgrid:false, zeroline:false, tickfont:{family:FONT, size:19, color:'#000'}, fixedrange:true};
}

function txt(x, y, text, size, fam, extra) {
  return Object.assign({xref:'paper', yref:'paper', x:px(x), y:py(y), xanchor:'center', yanchor:'middle',
    text:text, showarrow:false, font:{family:fam, size:size, color:'#000'}}, extra || {});
}
annotations.push(
  txt(423, 17.5, 'ASNR = -30 dB', 23.7, FONT),
  txt(223, 51.5, 'single-lead scheme', 23.7, FONT),
  txt(601.7, 51.5, 'multilead scheme', 23.7, FONT),
  txt(205.8, 566, 'time (s)', 23.5, FONT),
  txt(619, 564.5, 'time (s)', 23.5, FONT),
  txt(202.5, 601, '(a)', 24, SERIF),
  txt(618, 601, '(b)', 24, SERIF),
  txt(17, 296, 'mV', 22, FONT, {textangle:-90}),
  txt(425, 658.5, 'ASNR = -40 dB', 23.7, FONT),
  txt(223, 695.5, 'single-lead scheme', 23.7, FONT),
  txt(601.7, 694.5, 'multilead scheme', 23.7, FONT),
  txt(226, 1210, 'time (s)', 23.5, FONT),
  txt(619.5, 1210, 'time (s)', 23.5, FONT),
  txt(224, 1247, '(c)', 24, SERIF),
  txt(618, 1247, '(d)', 24, SERIF),
  txt(17, 943, 'mV', 22, FONT, {textangle:-90})
);

const layout = {
  width: W, height: H, margin:{l:0, r:0, t:0, b:0}, paper_bgcolor:'#fff', plot_bgcolor:'#fff',
  showlegend:false, font:{family:FONT, color:'#000'},
  xaxis:  xaxis(73, 368.5, 'y'),
  yaxis:  yaxis(79, 523, 'x', [-180,20], YTICKS30),
  xaxis2: xaxis(460, 750.7, 'y2'),
  yaxis2: yaxis(80, 526, 'x2', [-180,20], YTICKS30),
  xaxis3: xaxis(74.3, 370.5, 'y3'),
  yaxis3: yaxis(721, 1166, 'x3', [-115,15], YTICKS40),
  xaxis4: xaxis(460.7, 747.7, 'y4'),
  yaxis4: yaxis(719, 1164, 'x4', [-115,15], YTICKS40),
  annotations: annotations
};
Plotly.newPlot('chart', traces, layout, {staticPlot:true, displayModeBar:false});
</script>
</body></html>
